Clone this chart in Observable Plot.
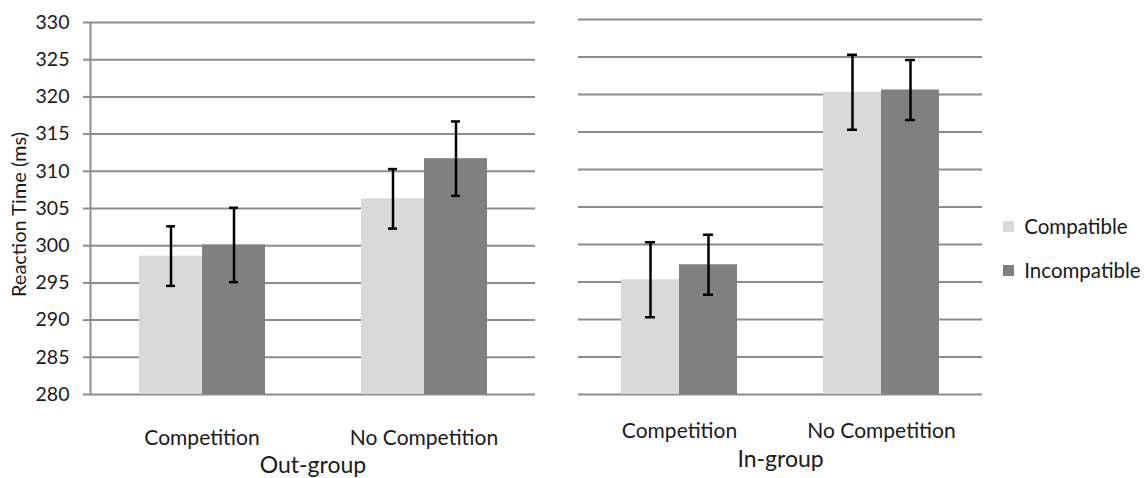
<!DOCTYPE html>
<html>
<head>
<meta charset="utf-8">
<script src="https://cdn.jsdelivr.net/npm/d3@7"></script>
<script src="https://cdn.jsdelivr.net/npm/@observablehq/plot@0.6"></script>
<style>
  html, body { margin: 0; padding: 0; background: #fff; }
  #wrap { position: relative; width: 1147px; height: 478px; overflow: hidden; font-family: Lato, sans-serif; }
  .panel { position: absolute; top: 0; height: 478px; }
  .panel > svg { position: absolute; left: 0; top: 0; }
  #left { left: 0; width: 560px; }
  #right { left: 560px; width: 587px; }
  #legend { position: absolute; left: 1003px; top: 205px; }
  #legend div { font-family: Lato, sans-serif; font-size: 20.5px; color: #1a1a1a; }
</style>
</head>
<body>
<div id="wrap">
  <div id="left" class="panel"></div>
  <div id="right" class="panel"></div>
  <div id="legend"></div>
</div>
<script>
// ---- data ----
const groups = ["Out-group", "In-group"];
const conditions = ["Competition", "No Competition"];
const series = ["Compatible", "Incompatible"];
const colors = ["#d9d9d9", "#808080"];
const yTicks = [280, 285, 290, 295, 300, 305, 310, 315, 320, 325, 330];
const yLabel = "Reaction Time (ms)";
const yMin = 280;
const yMax = 330;
// order: Competition/Compatible, Competition/Incompatible, No Competition/Compatible, No Competition/Incompatible
const outMeans = [298.6, 300.1, 306.3, 311.7];
const outErr   = [4.0, 5.0, 4.0, 5.0];
const inMeans  = [295.3, 297.3, 320.3, 320.6];
const inErr    = [5.0, 4.0, 5.0, 4.0];

function rows(means, errs) {
  const r = [];
  let i = 0;
  for (const c of conditions) for (const s of series) {
    r.push({condition: c, series: s, mean: means[i], err: errs[i]});
    i++;
  }
  return r;
}

const gridColor = "#8c8c8c";
const font = "Lato, sans-serif";
const ink = "#1a1a1a";

function panel(el, {data, title, width, marginLeft, marginRight, marginTop, tickPad, titleDy, showY, capInset}) {
  const common = {
    width, height: 478,
    marginLeft, marginRight, marginTop, marginBottom: 478 - 394,
    style: {fontFamily: font, background: "transparent", overflow: "visible"},
    y: {domain: [yMin, yMax], axis: null}
  };
  // background layer: gridlines, y axis, group title
  const bgMarks = [
    Plot.ruleY(yTicks, {y: d => d, stroke: gridColor, strokeWidth: 2})
  ];
  if (showY) {
    bgMarks.push(
      Plot.axisY(yTicks, {
        tickSize: 7, tickPadding: 14, stroke: gridColor, strokeWidth: 2,
        fontSize: 19.5, fill: ink, label: null
      }),
      Plot.ruleX([yMin], {x: () => 0, y1: yMin, y2: yMax, stroke: gridColor, strokeWidth: 2}),
      Plot.text([yLabel], {text: d => d, frameAnchor: "left", textAnchor: "middle", rotate: -90, dx: -71, dy: 6, fontSize: 20, fill: ink})
    );
  }
  bgMarks.push(Plot.text([title], {text: d => d, frameAnchor: "bottom", dy: titleDy, fontSize: 23, fill: ink}));
  const bg = Plot.plot({
    ...common,
    x: {domain: [0, 1], axis: null},
    marks: bgMarks
  });
  // foreground layer: faceted bars and error bars
  const fg = Plot.plot({
    ...common,
    fx: {domain: conditions, paddingInner: 0.427, paddingOuter: 0.2135, label: null},
    x: {domain: series, padding: 0, axis: null},
    color: {domain: series, range: colors},
    marks: [
      Plot.barY(data, {fx: "condition", x: "series", y1: yMin, y2: "mean", fill: "series"}),
      Plot.ruleX(data, {fx: "condition", x: "series", y1: d => d.mean - d.err, y2: d => d.mean + d.err, stroke: "#000", strokeWidth: 2.5}),
      Plot.tickY(data, {fx: "condition", x: "series", y: d => d.mean - d.err, stroke: "#000", strokeWidth: 2.5, insetLeft: capInset, insetRight: capInset}),
      Plot.tickY(data, {fx: "condition", x: "series", y: d => d.mean + d.err, stroke: "#000", strokeWidth: 2.5, insetLeft: capInset, insetRight: capInset}),
      Plot.axisFx({anchor: "bottom", tickSize: 0, tickPadding: tickPad, fontSize: 21, fill: ink, label: null})
    ]
  });
  el.appendChild(bg);
  el.appendChild(fg);
}

panel(document.getElementById("left"), {
  data: rows(outMeans, outErr), title: groups[0],
  width: 560, marginLeft: 90, marginRight: 25, marginTop: 22,
  tickPad: 36, titleDy: 78, showY: true, capInset: 27
});
panel(document.getElementById("right"), {
  data: rows(inMeans, inErr), title: groups[1],
  width: 587, marginLeft: 18, marginRight: 165, marginTop: 19,
  tickPad: 29, titleDy: 72, showY: false, capInset: 24
});

document.getElementById("legend").appendChild(Plot.legend({
  color: {domain: series, range: colors},
  swatchSize: 11, columns: 1,
  style: {fontFamily: font, fontSize: "20.5px", lineHeight: "43px"}
}));
</script>
</body>
</html>
